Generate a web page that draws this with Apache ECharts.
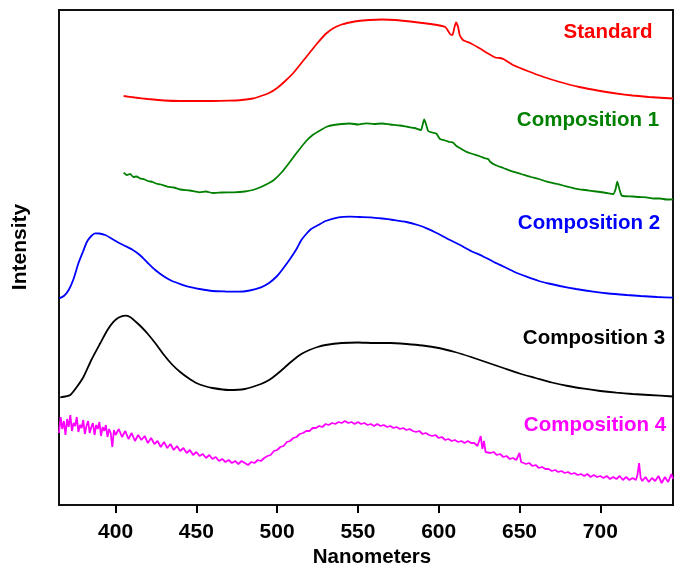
<!DOCTYPE html>
<html lang="en">
<head>
  <meta charset="UTF-8">
  <title>Intensity vs Nanometers</title>
  <style>
    html, body { margin: 0; padding: 0; background: #fff; }
    #main { width: 675px; height: 567px; }
  </style>
</head>
<body>
  <div id="main"></div>

  <script src="https://cdn.jsdelivr.net/npm/echarts@6/dist/echarts.min.js"></script>
  <script type="text/javascript">

    // x ticks shown on the axis (nm)
    var tickValues = [400, 450, 500, 550, 600, 650, 700];

    // curve data as [nm, intensity] (arbitrary offset units)
    var standard = [
      [405, 409], [412, 407.5], [420, 406], [430, 404.5], [440, 404], [450, 404], [460, 404],
      [470, 404.3], [478, 405], [485, 406.5], [490, 409], [495, 412], [500, 417], [505, 424],
      [510, 432], [515, 442], [520, 452], [525, 462], [530, 471], [535, 477], [540, 480.5],
      [545, 482.5], [550, 484], [557, 485], [565, 485.5], [573, 485], [585, 483], [595, 481],
      [604, 478], [607, 471], [608.5, 470], [609.5, 476], [610.7, 482.5], [612, 478], [613, 470],
      [615, 465], [617, 463.5], [620, 461.5], [625, 457], [630, 452], [635, 447.5], [638, 447],
      [640, 446], [643, 443], [646, 440], [655, 434], [665, 428], [675, 423], [687, 418],
      [700, 414], [710, 411.5], [720, 409.5], [730, 408], [745, 406.5]
    ];

    var composition1 = [
      [405, 332.3], [407, 330], [409, 331], [411, 328], [413, 328.5], [415, 326.7], [418, 325.5],
      [420, 324], [423, 323], [425, 321.5], [428, 320.5], [432, 318.3], [436, 317.5], [440, 315.5],
      [446, 314.5], [452, 312.7], [456, 313.5], [460, 312], [466, 312.5], [473, 312.7], [480, 313.5],
      [485, 315], [490, 318], [495, 322], [498, 325], [503, 333], [508, 343.3], [513, 354],
      [518, 364], [522, 370], [527, 375], [531, 378.5], [535, 380], [540, 381], [545, 381.5],
      [550, 380.5], [555, 381.7], [560, 381], [565, 381.5], [570, 380.5], [576, 379.5], [581, 378],
      [585, 377], [589, 375], [590, 380], [591, 385.7], [592.3, 380], [593.5, 374], [596, 372.5],
      [598.5, 371.5], [600.8, 366], [604, 364.5], [607, 363], [609, 362.3], [611, 359],
      [614, 356], [617, 353.3], [621, 351], [625, 349], [629, 346.5], [630.7, 345.7], [632, 343],
      [635, 340], [640, 337], [646, 333.3], [651, 331], [657, 328], [662, 326], [667, 323.3],
      [672, 321.5], [677, 319.5], [682, 317.5], [687, 315.7], [691, 315], [695, 314], [700, 313],
      [704, 312], [708, 311], [709.5, 316], [710.5, 323.3], [711.8, 316], [713, 310], [714, 309],
      [720, 308.5], [724, 308], [728.6, 307.7], [733, 306.5], [737, 306.5], [741, 305.5], [745, 305.7]
    ];

    var composition2 = [
      [365.2, 206.7], [368, 209], [371, 215], [374, 226], [377, 241.7], [380, 254], [382.3, 263.3],
      [385, 269], [387.4, 271.7], [390, 271.5], [393.6, 270], [397, 267], [401.9, 262.3],
      [406, 259], [410, 255.7], [415, 250], [420, 242], [424.6, 235], [430, 228.5], [435, 224],
      [440, 221], [445, 218.3], [452, 216], [460, 214], [468, 213.5], [476, 213.3], [483, 214.5],
      [490, 217.7], [495, 222], [500, 229], [503, 235], [508, 246], [512, 256], [515, 265],
      [518, 271], [521, 276], [525.5, 280], [530, 284], [538, 287.7], [545, 288.3], [551, 288],
      [558, 287.7], [565, 286.5], [572, 285], [580, 283], [587, 280], [592.6, 276.7], [600, 271],
      [607, 265], [613.2, 260], [620, 254], [627, 249], [633.8, 243.3], [640, 238.5], [647, 233],
      [654.4, 228.3], [662, 224], [668, 221.5], [675, 219], [685, 216], [695.6, 213.3],
      [705, 211.5], [716.3, 210], [725, 209], [735, 208], [745, 207.3]
    ];

    var composition3 = [
      [365.8, 107.7], [369, 108.5], [372, 110], [376, 118], [380.2, 128.3], [385, 145],
      [390.5, 161.7], [395, 175], [398.8, 183.3], [402, 187.5], [406, 189.3], [409, 188],
      [412, 184], [416, 178], [420, 171], [425, 161], [430, 150], [435, 140.5], [440, 133],
      [445, 127], [450, 122], [455, 119], [460, 117], [470, 115], [480, 116], [490, 121],
      [495, 125], [500, 131], [505, 138], [510, 145], [515, 151], [520, 155], [525, 158],
      [530, 160], [540, 162], [550, 162.5], [560, 162], [570, 162], [580, 161], [590, 159.5],
      [600, 157], [610, 153], [620, 148], [630, 142.5], [640, 137], [650, 131.5], [660, 127],
      [670, 122.5], [680, 119], [690, 116.3], [700, 114], [710, 112.3], [720, 111], [730, 110],
      [745, 108.5]
    ];

    var composition4 = [
      [365, 72], [366, 88], [367, 76], [368, 84], [369, 70], [370, 86], [371, 78], [372, 90],
      [373, 74], [374, 82], [375, 79], [376, 88], [377, 73], [378, 80], [379, 77], [380, 85],
      [381, 71], [382, 79], [383, 84], [384, 72], [385, 78], [386, 82], [387, 70], [388, 80],
      [389, 76], [390, 83], [391, 69], [392, 78], [393, 74], [394, 80], [395, 68], [396, 76],
      [397, 72], [398, 58], [399, 75], [400, 70], [402, 76], [404, 68], [406, 74], [408, 66],
      [410, 72], [412, 64], [414, 70], [416, 65], [418, 69], [420, 62], [422, 67], [424, 61],
      [426, 64], [428, 58], [430, 63], [432, 57], [434, 61], [436, 55], [438, 59], [440, 54],
      [442, 57], [444, 52], [446, 55], [448, 50], [450, 53], [452, 49], [454, 51], [456, 47],
      [458, 50], [460, 46], [462, 48], [464, 44], [466, 46], [468, 43], [470, 45], [472, 42],
      [474, 44], [476, 41], [478, 44], [480, 42], [482, 40], [484, 43], [486, 42], [488, 45],
      [490, 44], [492, 47], [494, 49], [496, 50], [498, 54], [500, 55], [502, 58], [504, 59],
      [506, 63], [508, 64], [510, 67], [512, 68], [514, 71], [516, 72], [518, 74], [520, 74],
      [522, 77], [524, 77], [526, 79], [528, 78], [530, 81], [532, 80], [534, 82], [536, 81],
      [538, 83], [540, 82], [542, 84], [544, 82], [546, 83], [548, 81], [550, 83], [552, 81],
      [554, 82], [556, 80], [558, 81], [560, 79], [562, 81], [564, 79], [566, 80], [568, 78],
      [570, 79], [572, 77], [574, 78], [576, 76], [578, 77], [580, 75], [582, 76], [584, 74],
      [586, 73], [588, 74], [590, 71], [592, 72], [594, 70], [596, 69], [598, 70], [600, 67],
      [602, 68], [604, 65], [606, 66], [608, 64], [610, 65], [612, 63], [614, 64], [616, 62],
      [618, 64], [620, 62], [622, 62], [624, 59], [626, 69], [627, 56], [628, 64], [629, 53],
      [630, 55], [632, 52], [634, 53], [636, 50], [638, 51], [640, 48], [642, 49], [644, 46],
      [646, 47], [648, 45], [649, 45], [650, 52], [651, 43], [652, 44], [654, 41], [656, 42],
      [658, 39], [660, 40], [662, 37], [664, 38], [666, 36], [668, 36], [670, 34], [672, 35],
      [674, 33], [676, 34], [678, 32], [680, 33], [682, 31], [684, 32], [686, 30], [688, 31],
      [690, 29], [692, 31], [694, 28], [696, 30], [698, 28], [700, 29], [702, 27], [704, 29],
      [706, 26], [708, 28], [710, 26], [712, 29], [714, 25], [716, 28], [718, 25], [720, 27],
      [722, 25], [723, 30], [724, 42], [725, 27], [726, 24], [728, 28], [730, 23], [732, 27],
      [734, 24], [736, 29], [738, 22], [740, 28], [742, 23], [744, 31], [745, 26]
    ];

    var seriesNames = ['Standard', 'Composition 1', 'Composition 2', 'Composition 3', 'Composition 4'];
    var seriesColors = ['#ff0000', '#008000', '#0000ff', '#000000', '#ff00ff'];
    var seriesData = [standard, composition1, composition2, composition3, composition4];

    // where the name labels sit (pixel centres)
    var labelPos = [[608, 32], [588, 120], [589, 223], [594, 338], [595, 425]];

    var font = '"Liberation Sans", Arial, sans-serif';

    var myChart = echarts.init(document.getElementById('main'));

    var series = [];
    var labels = [];
    for (var i = 0; i < seriesData.length; i++) {
      series.push({
        name: seriesNames[i],
        type: 'line',
        data: seriesData[i],
        showSymbol: false,
        smooth: i === 4 ? false : 0.2,
        lineStyle: { color: seriesColors[i], width: 1.8 },
        animation: false
      });
      labels.push({
        type: 'text',
        x: labelPos[i][0],
        y: labelPos[i][1],
        style: {
          text: seriesNames[i],
          fill: seriesColors[i],
          font: 'bold 20.5px ' + font,
          textAlign: 'center',
          textVerticalAlign: 'middle'
        }
      });
    }

    // axis titles, placed by hand since they are not centred on the plot
    labels.push({
      type: 'text',
      x: 20,
      y: 247,
      rotation: Math.PI / 2,
      style: {
        text: 'Intensity',
        fill: '#000',
        font: 'bold 21px ' + font,
        textAlign: 'center',
        textVerticalAlign: 'middle'
      }
    });
    labels.push({
      type: 'text',
      x: 372,
      y: 557,
      style: {
        text: 'Nanometers',
        fill: '#000',
        font: 'bold 20.5px ' + font,
        textAlign: 'center',
        textVerticalAlign: 'middle'
      }
    });

    var option = {
      animation: false,
      grid: {
        left: 59, right: 2, top: 10, bottom: 62,
        outerBoundsMode: 'none',
        show: true,
        borderColor: '#111',
        borderWidth: 2
      },
      xAxis: {
        type: 'value',
        min: 365,
        max: 745,
        axisLine: { lineStyle: { color: '#111', width: 2 } },
        axisTick: { customValues: tickValues, length: 8, lineStyle: { color: '#000', width: 2 } },
        axisLabel: {
          customValues: tickValues,
          margin: 17,
          fontFamily: font,
          fontWeight: 'bold',
          fontSize: 21,
          color: '#000'
        },
        splitLine: { show: false }
      },
      yAxis: {
        type: 'value',
        min: 0,
        max: 495,
        axisLine: { show: false },
        axisTick: { show: false },
        axisLabel: { show: false },
        splitLine: { show: false }
      },
      graphic: labels,
      series: series
    };

    myChart.setOption(option);
  </script>
</body>
</html>
